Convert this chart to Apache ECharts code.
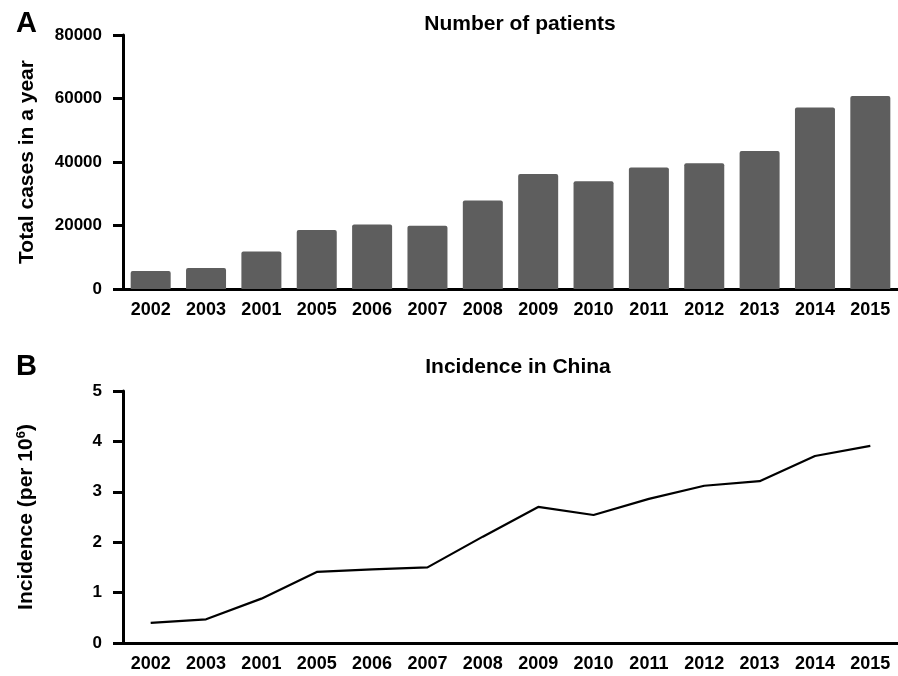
<!DOCTYPE html>
<html>
<head>
<meta charset="utf-8">
<script src="https://cdn.jsdelivr.net/npm/echarts@6/dist/echarts.min.js"></script>
<style>html,body{margin:0;padding:0;background:#fff;}#c{width:898px;height:676px;}</style>
</head>
<body>
<div id="c"></div>
<script>
var categories = ['2002','2003','2001','2005','2006','2007','2008','2009','2010','2011','2012','2013','2014','2015'];
var patients = [5700, 6600, 11800, 18600, 20300, 19900, 27900, 36200, 33900, 38300, 39600, 43500, 57200, 60800];
var incidence = [0.40, 0.47, 0.88, 1.41, 1.46, 1.50, 2.11, 2.70, 2.54, 2.86, 3.12, 3.21, 3.71, 3.91];
var titleA = 'Number of patients';
var titleB = 'Incidence in China';
var yNameA = 'Total cases in a year';
var yNameB = 'Incidence (per 10{sup|6})';

var FONT = '"Liberation Sans", Arial, sans-serif';
var axisLineStyle = { color: '#000', width: 3 };
var tickStyle = { color: '#000', width: 3 };

function xAxisCfg(gridIndex) {
  return {
    type: 'category', gridIndex: gridIndex, data: categories,
    axisLine: { lineStyle: axisLineStyle },
    axisTick: { alignWithLabel: true, length: 9, lineStyle: tickStyle },
    axisLabel: { color: '#000', fontSize: 18, fontWeight: 'bold', fontFamily: FONT, margin: 12, interval: 0 },
    splitLine: { show: false }
  };
}
function plain(v) { return String(v); }

var chart = echarts.init(document.getElementById('c'));
chart.setOption({
  animation: false,
  backgroundColor: '#fff',
  title: [
    { text: titleA, left: 515, top: 9, textAlign: 'center',
      textStyle: { fontSize: 21, fontWeight: 'bold', color: '#000', fontFamily: FONT } },
    { text: titleB, left: 513, top: 352, textAlign: 'center',
      textStyle: { fontSize: 21, fontWeight: 'bold', color: '#000', fontFamily: FONT } },
    { text: 'A', left: 11, top: 4,
      textStyle: { fontSize: 29, fontWeight: 'bold', color: '#000', fontFamily: FONT } },
    { text: 'B', left: 11, top: 347,
      textStyle: { fontSize: 29, fontWeight: 'bold', color: '#000', fontFamily: FONT } }
  ],
  grid: [
    { left: 123, top: 35, width: 778, height: 254 },
    { left: 123, top: 391, width: 778, height: 252 }
  ],
  xAxis: [xAxisCfg(0), xAxisCfg(1)],
  yAxis: [
    { type: 'value', gridIndex: 0, min: 0, max: 80000, interval: 20000,
      name: yNameA, nameLocation: 'middle', nameGap: 85,
      nameTextStyle: { fontSize: 21, fontWeight: 'bold', color: '#000', fontFamily: FONT },
      axisLine: { show: true, lineStyle: axisLineStyle },
      axisTick: { show: true, length: 10, lineStyle: tickStyle },
      axisLabel: { color: '#000', fontSize: 17, fontWeight: 'bold', fontFamily: FONT, margin: 21, formatter: plain },
      splitLine: { show: false } },
    { type: 'value', gridIndex: 1, min: 0, max: 5, interval: 1,
      name: yNameB, nameLocation: 'middle', nameGap: 85,
      nameTextStyle: { fontSize: 21, fontWeight: 'bold', color: '#000', fontFamily: FONT,
        rich: { sup: { fontSize: 13, fontWeight: 'bold', color: '#000', fontFamily: FONT, padding: [0, 0, 10, 0] } } },
      axisLine: { show: true, lineStyle: axisLineStyle },
      axisTick: { show: true, length: 10, lineStyle: tickStyle },
      axisLabel: { color: '#000', fontSize: 17, fontWeight: 'bold', fontFamily: FONT, margin: 21, formatter: plain },
      splitLine: { show: false } }
  ],
  series: [
    { type: 'bar', xAxisIndex: 0, yAxisIndex: 0, data: patients, barWidth: 40,
      itemStyle: { color: '#5e5e5e', borderRadius: [2, 2, 0, 0] } },
    { type: 'line', xAxisIndex: 1, yAxisIndex: 1, data: incidence, showSymbol: false, symbol: 'none',
      lineStyle: { color: '#000', width: 2.2 } }
  ]
});
</script>
</body>
</html>
